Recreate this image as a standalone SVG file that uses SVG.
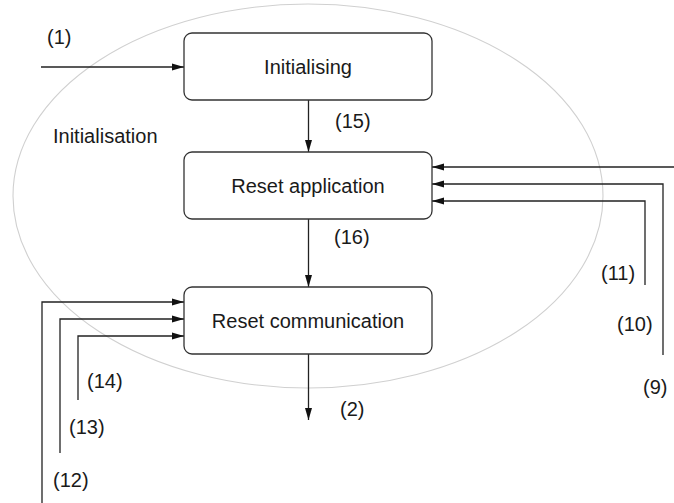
<svg xmlns="http://www.w3.org/2000/svg" width="674" height="503" viewBox="0 0 674 503">
<style>
text{font-family:"Liberation Sans",Arial,sans-serif;font-size:20px;fill:#1a1a1a}
.box{fill:#fff;stroke:#333;stroke-width:1.3}
.c{fill:none;stroke:#222;stroke-width:1.3}
.ell{fill:none;stroke:#d0d0d0;stroke-width:1.1}
</style>
<defs>
<marker id="ah" markerUnits="userSpaceOnUse" markerWidth="13" markerHeight="8" refX="12" refY="4" orient="auto">
<path d="M0,0.5 L12,4 L0,7.5 z" fill="#111"/>
</marker>
</defs>
<g id="initialisation">
<ellipse class="ell" cx="308" cy="196" rx="295" ry="192"/>
<text x="53" y="143">Initialisation</text>
</g>
<g id="connectors">
<line class="c" x1="41" y1="67" x2="184" y2="67" marker-end="url(#ah)"/>
<line class="c" x1="308.5" y1="100" x2="308.5" y2="152" marker-end="url(#ah)"/>
<line class="c" x1="308.5" y1="219" x2="308.5" y2="287" marker-end="url(#ah)"/>
<line class="c" x1="308.5" y1="354" x2="308.5" y2="420" marker-end="url(#ah)"/>
<polyline class="c" points="674,167 432,167" marker-end="url(#ah)"/>
<polyline class="c" points="663,355 663,184 432,184" marker-end="url(#ah)"/>
<polyline class="c" points="645,285 645,201 432,201" marker-end="url(#ah)"/>
<polyline class="c" points="42,503 42,302 184,302" marker-end="url(#ah)"/>
<polyline class="c" points="60,453 60,319 184,319" marker-end="url(#ah)"/>
<polyline class="c" points="78,400 78,336 184,336" marker-end="url(#ah)"/>
<text x="47" y="44">(1)</text>
<text x="335" y="128">(15)</text>
<text x="334" y="244">(16)</text>
<text x="340" y="416">(2)</text>
<text x="601" y="280">(11)</text>
<text x="617" y="331">(10)</text>
<text x="643" y="394">(9)</text>
<text x="87" y="388">(14)</text>
<text x="69" y="434">(13)</text>
<text x="53" y="487">(12)</text>
</g>
<g id="initialising">
<rect class="box" x="184" y="33" width="248" height="67" rx="8"/>
<text x="308" y="74" text-anchor="middle">Initialising</text>
</g>
<g id="reset-application">
<rect class="box" x="184" y="152" width="248" height="67" rx="8"/>
<text x="308" y="193" text-anchor="middle">Reset application</text>
</g>
<g id="reset-communication">
<rect class="box" x="184" y="287" width="248" height="67" rx="8"/>
<text x="308" y="328" text-anchor="middle">Reset communication</text>
</g>
</svg>
